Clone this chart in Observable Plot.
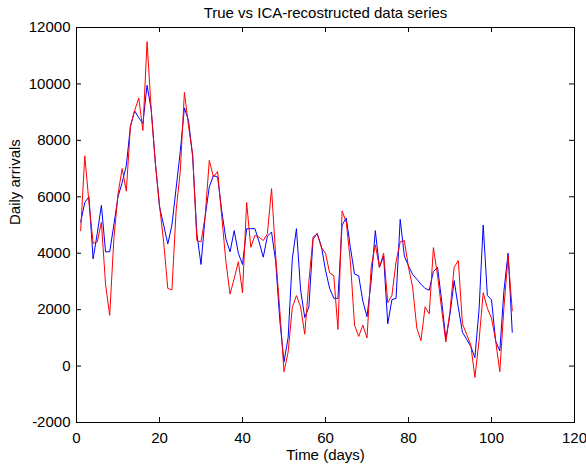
<!DOCTYPE html>
<html>
<head>
<meta charset="utf-8">
<script src="https://cdn.jsdelivr.net/npm/d3@7"></script>
<script src="https://cdn.jsdelivr.net/npm/@observablehq/plot@0.6"></script>
<style>
  html, body { margin: 0; padding: 0; background: #fff; }
  #chart svg { display: block; }
</style>
</head>
<body>
<div id="chart"></div>
<script>
const days = d3.range(1, 106);

const blueValues = [
  5100, 5800, 6000, 3800, 4700, 5700, 4050, 4050, 5000, 6000,
  6500, 7100, 8500, 9050, 8800, 8600, 9950, 9100, 7200, 5650,
  5000, 4330, 5000, 6300, 7600, 9150, 8700, 7400, 4700, 3600,
  5300, 6350, 6750, 6700, 5500, 4500, 4050, 4800, 4000, 3600,
  4870, 4870, 4870, 4400, 3860, 4600, 4750, 3700, 1600, 150,
  1010, 3800, 4870, 2700, 1720, 2100, 4500, 4700, 4250, 3400,
  2750, 2400, 2400, 5000, 5250, 4200, 3260, 3200, 2300, 1750,
  3000, 4800, 3500, 3900, 1500, 2350, 2400, 5200, 3900, 3550,
  3250, 3080, 2900, 2750, 2690, 3350, 3500, 2300, 950, 1840,
  3030, 2080, 1200, 950, 700, 300, 2000, 5000, 2500, 2350,
  890, 540, 2670, 4000, 1200
];

const redValues = [
  4800, 7450, 5800, 4350, 4400, 5100, 2900, 1800, 4500, 6100,
  7000, 6200, 8500, 9050, 9500, 8350, 11500, 9100, 7200, 5700,
  4400, 2750, 2700, 5500, 6900, 9700, 8500, 7500, 4450, 4400,
  5300, 7290, 6700, 6900, 5300, 3700, 2550, 3100, 3700, 2600,
  5800, 4210, 4630, 4570, 4450, 4690, 6290, 3900, 1960, -200,
  500, 2080, 2500, 2100, 1130, 3000, 4570, 4690, 4200, 4000,
  3300, 3200, 1300, 5500, 5100, 3700, 1450, 1050, 1450, 1000,
  3500, 4300, 3500, 4000, 2250, 2500, 3700, 4400, 4450, 3500,
  2790, 1350, 900, 2100, 1850, 4200, 3200, 2000, 850, 1960,
  3500, 3740, 1500, 1130, 750, -400, 900, 2600, 2050, 1700,
  900, -200, 2080, 3900, 1960
];

const xTicks = [0, 20, 40, 60, 80, 100, 120];
const yTicks = [-2000, 0, 2000, 4000, 6000, 8000, 10000, 12000];

const titleText = "True vs ICA-recostructed data series";
const xLabel = "Time (days)";
const yLabel = "Daily arrivals";

const blueData = days.map((d, i) => ({day: d, value: blueValues[i]}));
const redData = days.map((d, i) => ({day: d, value: redValues[i]}));

const W = 586, H = 466;
const mL = 76, mR = 12, mT = 27, mB = 44;
const innerW = W - mL - mR, innerH = H - mT - mB;
const tick = 5;
const font = "'Liberation Sans', Arial, Helvetica, sans-serif";

const chart = Plot.plot({
  width: W,
  height: H,
  marginLeft: mL,
  marginRight: mR,
  marginTop: mT,
  marginBottom: mB,
  style: {fontFamily: font, fontSize: "15px", color: "black", background: "white"},
  x: {domain: [0, 120], ticks: xTicks},
  y: {domain: [-2000, 12000], ticks: yTicks},
  marks: [
    Plot.line(blueData, {x: "day", y: "value", stroke: "#0000ff", strokeWidth: 1}),
    Plot.line(redData, {x: "day", y: "value", stroke: "#ff0000", strokeWidth: 1}),
    Plot.ruleX(xTicks, {x: d => d, insetTop: innerH - tick, stroke: "black"}),
    Plot.ruleX(xTicks, {x: d => d, insetBottom: innerH - tick, stroke: "black"}),
    Plot.ruleY(yTicks, {y: d => d, insetRight: innerW - tick, stroke: "black"}),
    Plot.ruleY(yTicks, {y: d => d, insetLeft: innerW - tick, stroke: "black"}),
    Plot.frame({stroke: "black", strokeWidth: 1}),
    Plot.axisX({ticks: xTicks, tickSize: 0, tickPadding: 10, tickFormat: d => String(d), label: null, fontSize: 15}),
    Plot.axisY({ticks: yTicks, tickSize: 0, tickPadding: 6, tickFormat: d => String(d), label: null, fontSize: 15}),
    Plot.text([titleText], {frameAnchor: "top", dy: -14, text: d => d, fontSize: 15, lineAnchor: "middle"}),
    Plot.text([xLabel], {frameAnchor: "bottom", dy: 33, text: d => d, fontSize: 15, lineAnchor: "middle"}),
    Plot.text([yLabel], {frameAnchor: "left", dx: -61, rotate: -90, text: d => d, fontSize: 15, lineAnchor: "middle"})
  ]
});

document.getElementById("chart").appendChild(chart);
</script>
</body>
</html>
